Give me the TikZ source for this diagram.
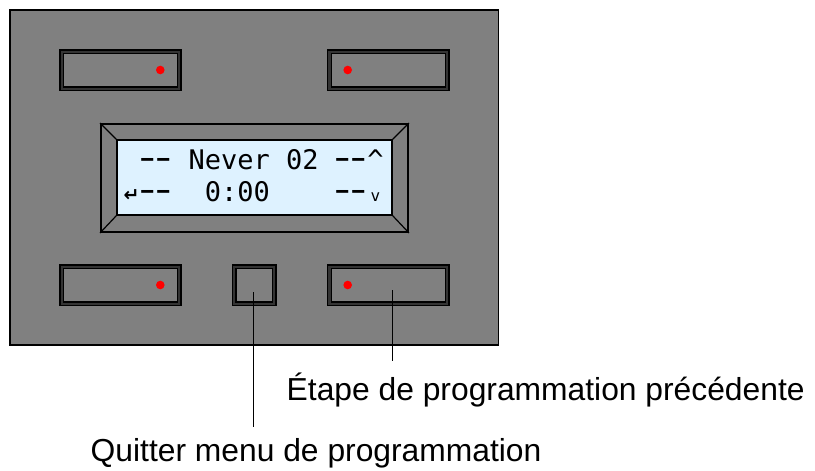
\documentclass[tikz,border=0pt]{standalone}
\usepackage{fontspec}
\usepackage{graphicx}
\setmainfont{Liberation Sans}
\newfontfamily\lcdfont{DejaVu Sans Mono}
\newfontfamily\lcdsym{DejaVu Sans}
\usetikzlibrary{positioning, calc}
\definecolor{panelgray}{RGB}{128,128,128}
\definecolor{bezelgray}{RGB}{52,52,52}
\definecolor{screenblue}{RGB}{222,242,255}
\newcommand{\lcdcell}[1]{\makebox[16.25pt][c]{#1}}
\newcommand{\lcddash}{\lcdcell{\scalebox{1.75}[1.3]{-}}}

\begin{document}
\begin{tikzpicture}[x=1pt, y=-1pt,
    btn/.style={draw=black, rectangle, line width=1.3pt, double=bezelgray, double distance=2.2pt, fill=panelgray, minimum width=117.6pt, minimum height=36.9pt, inner sep=0pt},
    led/.style={circle, fill=red, inner sep=0pt, minimum size=8.6pt},
    lcdrow/.style={anchor=base west, inner sep=0pt, font=\lcdfont\fontsize{27}{27}\selectfont},
    callout/.style={anchor=base west, inner xsep=0pt, inner ysep=11pt, font=\fontsize{31.8}{38}\selectfont},
    leader/.style={draw=black, line width=0.9pt}]
    \useasboundingbox (0,0) rectangle (815,471);
    % housing
    \node (panel) [draw=black, rectangle, line width=1.5pt, fill=panelgray, minimum width=488.2pt, minimum height=335pt] at (254.2,177.3) {};

    % buttons
    \node (btnTL) [btn] at (120.5,70.2) {};
    \node (btnTR) [btn] at (388.3,70.2) {};
    \node (btnBL) [btn] at (120.5,285.2) {};
    \node (btnQuit) [btn, minimum width=40.2pt] at (254.2,285.2) {};
    \node (btnPrev) [btn] at (388.3,285.2) {};
    \node (ledTL) [led] at (160.3,70) {};
    \node (ledTR) [led] at (347.7,70) {};
    \node (ledBL) [led] at (160.3,285) {};
    \node (ledPrev) [led] at (347.7,285) {};

    % display
    \node (lcdframe) [draw=black, rectangle, line width=1.8pt, fill=panelgray, minimum width=307pt, minimum height=108pt] at (254.5,178) {};
    \node (screen) [draw=black, rectangle, line width=1.4pt, fill=screenblue, minimum width=275pt, minimum height=75pt] at (254.5,177.5) {};
    \foreach \c in {north west, north east, south west, south east}
        \draw [line width=1.2pt] (lcdframe.\c) -- (screen.\c);
    \node (lcdtop) [lcdrow] at (123.3,169.3) {~\lcddash\lcddash~Never~02~\lcddash\lcddash\textasciicircum};
    \node (lcdbot) [lcdrow] at (123.3,201.7) {\lcdcell{\lcdsym\bfseries\fontsize{19}{19}\selectfont ↵}\lcddash\lcddash~~0:00~~~~\lcddash\lcddash\lcdcell{\fontsize{16}{16}\selectfont v}};

    % callouts
    \node (prevlabel) [callout] at (286.5,400) {Étape de programmation précédente};
    \node (quitlabel) [callout] at (90.5,461) {Quitter menu de programmation};
    \coordinate (prevpin) at (392,290);
    \coordinate (quitpin) at (253,292);
    \draw [leader] (prevpin) -- (prevpin |- prevlabel.north);
    \draw [leader] (quitpin) -- (quitpin |- quitlabel.north);
\end{tikzpicture}
\end{document}
